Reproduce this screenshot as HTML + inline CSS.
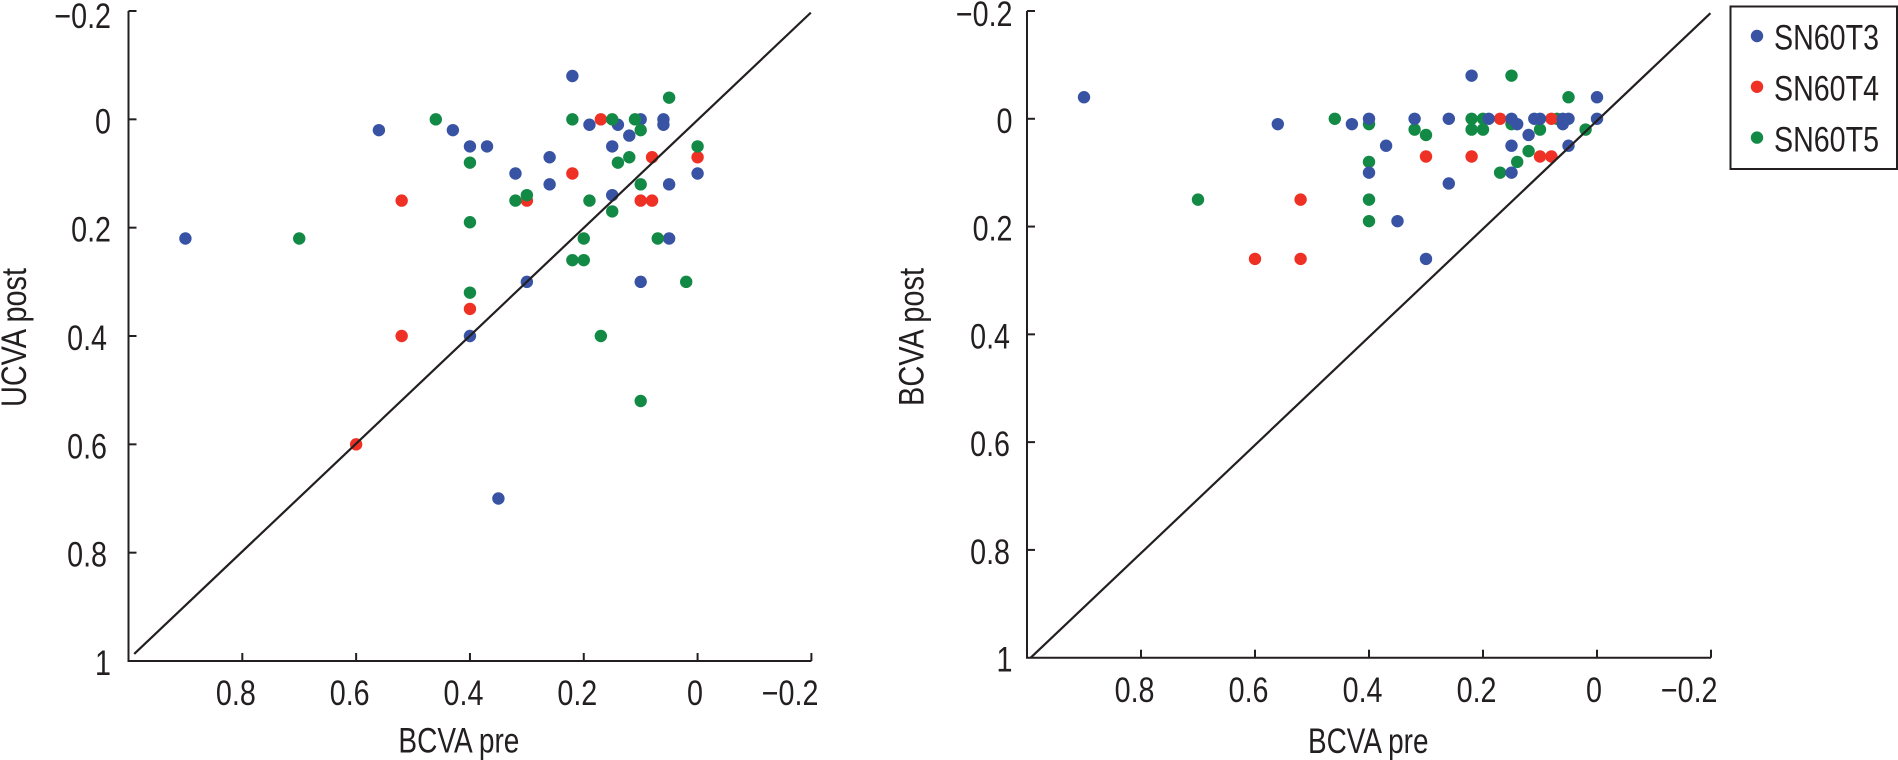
<!DOCTYPE html>
<html lang="en">
<head>
<meta charset="utf-8">
<title>UCVA and BCVA pre versus post</title>
<style>
  html, body { margin: 0; padding: 0; background: #fff; }
  svg { display: block; }
  text { font-family: "Liberation Sans", Arial, sans-serif; fill: #231f20; }
</style>
</head>
<body>
<svg id="figure" xmlns="http://www.w3.org/2000/svg" width="1898" height="760" viewBox="0 0 1898 760"></svg>
<script>
// Axis ticks and labels
const tickValues = [-0.2, 0, 0.2, 0.4, 0.6, 0.8, 1];
const tickLabels = ['\u22120.2', '0', '0.2', '0.4', '0.6', '0.8', '1'];

// Series names and colours
const seriesNames = ['SN60T3', 'SN60T4', 'SN60T5'];
const seriesColors = ['#3853a4', '#ee3124', '#128a45'];

// Left panel: UCVA post against BCVA pre
const leftT3Pre = [0.90, 0.56, 0.43, 0.40, 0.37, 0.26, 0.32, 0.26, 0.19, 0.14, 0.10, 0.06, 0.06, 0.12, 0.15, 0.15, 0.05, 0, 0.05, 0.30, 0.10, 0.40, 0.22, 0.35];
const leftT3Post = [0.22, 0.02, 0.02, 0.05, 0.05, 0.07, 0.10, 0.12, 0.01, 0.01, 0, 0, 0.01, 0.03, 0.05, 0.14, 0.12, 0.10, 0.22, 0.30, 0.30, 0.40, -0.08, 0.70];
const leftT4Pre = [0.17, 0.08, 0, 0.22, 0.30, 0.10, 0.08, 0.40, 0.52, 0.52, 0.60];
const leftT4Post = [0, 0.07, 0.07, 0.10, 0.15, 0.15, 0.15, 0.35, 0.15, 0.40, 0.60];
const leftT5Pre = [0.70, 0.46, 0.22, 0.15, 0.11, 0.10, 0.05, 0, 0.40, 0.12, 0.14, 0.32, 0.30, 0.19, 0.10, 0.15, 0.40, 0.20, 0.07, 0.22, 0.20, 0.02, 0.40, 0.17, 0.10];
const leftT5Post = [0.22, 0, 0, 0, 0, 0.02, -0.04, 0.05, 0.08, 0.07, 0.08, 0.15, 0.14, 0.15, 0.12, 0.17, 0.19, 0.22, 0.22, 0.26, 0.26, 0.30, 0.32, 0.40, 0.52];
const leftIdentityX = [0.99, -0.199];
const leftIdentityY = [0.987, -0.197];

// Right panel: BCVA post against BCVA pre
const rightT3Pre = [0.90, 0.56, 0.22, 0, 0, 0.40, 0.43, 0.32, 0.26, 0.19, 0.15, 0.14, 0.11, 0.10, 0.06, 0.05, 0.06, 0.12, 0.37, 0.15, 0.05, 0.40, 0.15, 0.26, 0.35, 0.30];
const rightT3Post = [-0.04, 0.01, -0.08, -0.04, 0, 0, 0.01, 0, 0, 0, 0, 0.01, 0, 0, 0, 0, 0.01, 0.03, 0.05, 0.05, 0.05, 0.10, 0.10, 0.12, 0.19, 0.26];
const rightT4Pre = [0.17, 0.08, 0.30, 0.22, 0.10, 0.08, 0.52, 0.60, 0.52];
const rightT4Post = [0, 0, 0.07, 0.07, 0.07, 0.07, 0.15, 0.26, 0.26];
const rightT5Pre = [0.15, 0.05, 0.46, 0.40, 0.22, 0.20, 0.15, 0.07, 0.32, 0.30, 0.22, 0.20, 0.10, 0.02, 0.12, 0.14, 0.40, 0.17, 0.40, 0.40, 0.70];
const rightT5Post = [-0.08, -0.04, 0, 0.01, 0, 0, 0.01, 0, 0.02, 0.03, 0.02, 0.02, 0.02, 0.02, 0.06, 0.08, 0.08, 0.10, 0.15, 0.19, 0.15];
const rightIdentityX = [0.9935, -0.199];
const rightIdentityY = [1, -0.196];

const SVG_NS = 'http://www.w3.org/2000/svg';
const INK = '#231f20';
const FONT_SIZE = 35;
const figure = document.getElementById('figure');

function make(tag, attrs, name, parent) {
  const el = document.createElementNS(SVG_NS, tag);
  for (const key in attrs) el.setAttribute(key, attrs[key]);
  
  
  parent.appendChild(el);
  return el;
}

function squeezedLabel(content, x, y, name, parent) {
  const t = make('text', {
    'text-anchor': 'end',
    'font-size': FONT_SIZE,
    transform: 'translate(' + x + ',' + y + ') scale(0.82,1)'
  }, name, parent);
  t.textContent = content;
  return t;
}

function fittedText(content, x, y, length, rotate, name, parent) {
  const attrs = {
    'font-size': FONT_SIZE,
    textLength: length,
    lengthAdjust: 'spacingAndGlyphs',
    transform: 'translate(' + x + ',' + y + ')' + (rotate ? ' rotate(-90)' : '')
  };
  const t = make('text', attrs, name, parent);
  t.textContent = content;
  return t;
}

function drawPanel(cfg) {
  const panel = make('g', {}, cfg.name, figure);
  const xScale = v => cfg.x0 + (cfg.x1 - cfg.x0) * (v - 1) / (-0.2 - 1);
  const yScale = v => cfg.y1 + (cfg.y0 - cfg.y1) * (v - 1) / (-0.2 - 1);

  const axes = make('g', { stroke: INK, 'stroke-width': 2, fill: 'none' }, 'axes', panel);
  make('path', {
    d: 'M' + xScale(1) + ' ' + yScale(-0.2) + ' V' + yScale(1) + ' H' + xScale(-0.2)
  }, 'axis-lines', axes);

  tickValues.forEach(function (v, i) {
    if (v !== 1) {
      make('line', { x1: xScale(1), x2: xScale(1) + 8, y1: yScale(v), y2: yScale(v) }, 'y-tick', axes);
      make('line', { x1: xScale(v), x2: xScale(v), y1: yScale(1), y2: yScale(1) - 8 }, 'x-tick', axes);
      const xShift = v === 0 ? cfg.zeroShift : (v < 0 ? cfg.negShift : 13.5);
      squeezedLabel(tickLabels[i], xScale(v) + xShift, cfg.xLabelY, 'x-tick-label', panel);
    }
    const yShift = v < 0 ? cfg.topLabelShift : 14;
    const inset = (v >= 0.4 && v < 1) ? cfg.labelInset : 0;
    squeezedLabel(tickLabels[i], cfg.yLabelX - inset, yScale(v) + yShift, 'y-tick-label', panel);
  });

  fittedText('BCVA pre', cfg.xTitleX, cfg.xTitleY, cfg.xTitleLen, false, 'x-axis-title', panel);
  fittedText(cfg.yTitle, cfg.yTitleX, cfg.yTitleY, cfg.yTitleLen, true, 'y-axis-title', panel);

  const marks = make('g', {}, 'points', panel);
  cfg.order.forEach(function (s) {
    const series = cfg.series[s];
    const group = make('g', { fill: seriesColors[s] }, 'series-' + seriesNames[s].toLowerCase(), marks);
    series.pre.forEach(function (p, i) {
      make('circle', { cx: xScale(p), cy: yScale(series.post[i]), r: 6.2 }, 'point', group);
    });
  });

  make('line', {
    x1: xScale(cfg.lineX[0]), y1: yScale(cfg.lineY[0]),
    x2: xScale(cfg.lineX[1]), y2: yScale(cfg.lineY[1]),
    stroke: INK, 'stroke-width': 2.2
  }, 'identity-line', panel);
}

drawPanel({
  name: 'ucva-panel',
  x0: 128.5, x1: 811.4, y0: 11, y1: 661,
  yLabelX: 111, labelInset: 4, xLabelY: 705, zeroShift: 5.4, negShift: 7, topLabelShift: 17,
  xTitleX: 398.4, xTitleY: 752.5, xTitleLen: 121,
  yTitle: 'UCVA post', yTitleX: 26, yTitleY: 407, yTitleLen: 139,
  order: [0, 1, 2],
  lineX: leftIdentityX, lineY: leftIdentityY,
  series: [
    { pre: leftT3Pre, post: leftT3Post },
    { pre: leftT4Pre, post: leftT4Post },
    { pre: leftT5Pre, post: leftT5Post }
  ]
});

drawPanel({
  name: 'bcva-panel',
  x0: 1027, x1: 1711, y0: 11, y1: 657.7,
  yLabelX: 1012.5, labelInset: 2.5, xLabelY: 702, zeroShift: 5, negShift: 6.5, topLabelShift: 15,
  xTitleX: 1308, xTitleY: 753, xTitleLen: 120.5,
  yTitle: 'BCVA post', yTitleX: 923.5, yTitleY: 406, yTitleLen: 138,
  order: [2, 1, 0],
  lineX: rightIdentityX, lineY: rightIdentityY,
  series: [
    { pre: rightT3Pre, post: rightT3Post },
    { pre: rightT4Pre, post: rightT4Post },
    { pre: rightT5Pre, post: rightT5Post }
  ]
});

// Legend
const legend = make('g', {}, 'legend', figure);
make('rect', { x: 1730.5, y: 6.5, width: 166.5, height: 162.5, fill: '#fff', stroke: INK, 'stroke-width': 2 }, 'legend-box', legend);
seriesNames.forEach(function (label, i) {
  const entry = make('g', {}, 'legend-entry', legend);
  make('circle', { cx: 1757, cy: 36 + i * 50.8, r: 6.2, fill: seriesColors[i] }, 'legend-marker', entry);
  fittedText(label, 1774, 49.5 + i * 51.1, 105, false, 'legend-label', entry);
});
</script>
</body>
</html>
